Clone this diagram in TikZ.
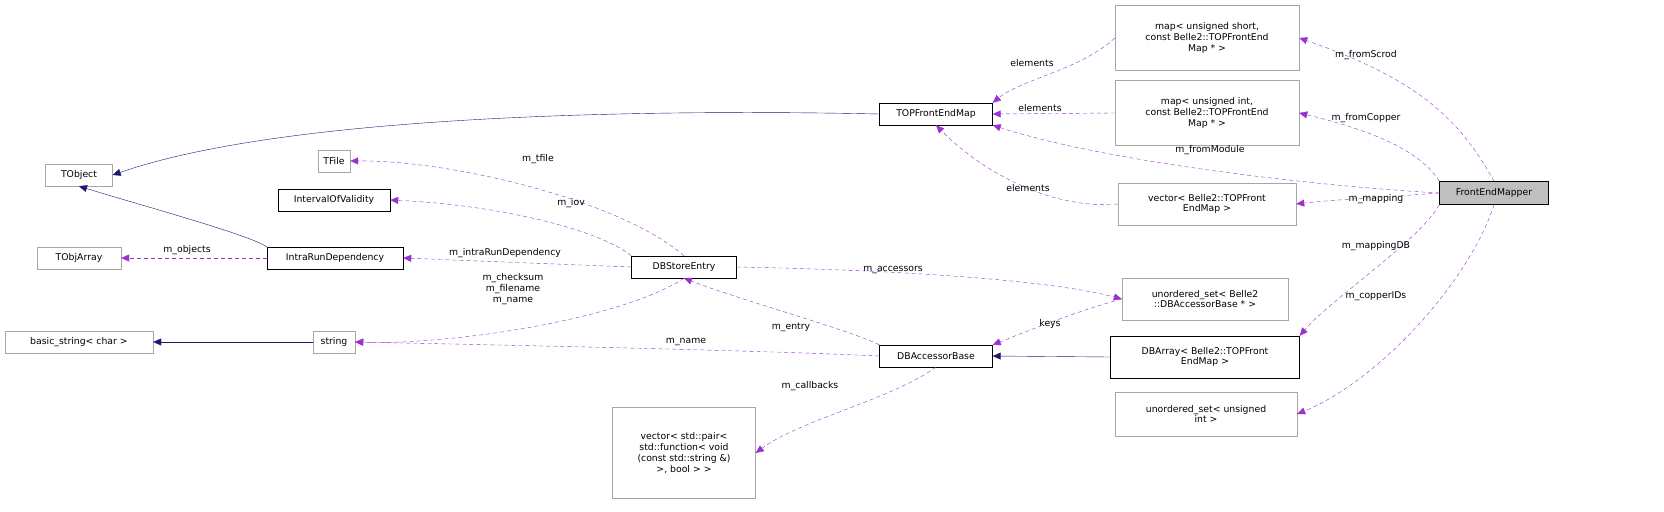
\documentclass[tikz,border=0pt]{standalone}
\usepackage{fontspec}
\setmainfont{DejaVu Sans}
\usetikzlibrary{arrows.meta}
\definecolor{purp}{HTML}{9A32CD}
\definecolor{nav}{HTML}{191970}
\begin{document}
\begin{tikzpicture}[x=1pt,y=-1pt,
  gbox/.style={draw=black!35, fill=white, align=center, inner sep=1pt, font=\fontsize{9.3}{10.8}\selectfont, minimum height=22},
  bbox/.style={gbox, draw=black},
  inh/.style={color=nav, -{Triangle[length=8pt,width=7pt]}},
  use/.style={color=purp, dash pattern=on 4pt off 3pt, -{Triangle[length=8pt,width=7pt]}},
  lab/.style={font=\fontsize{9.3}{10.8}\selectfont, align=center, inner sep=1pt, text=black}]
\useasboundingbox (0,0) rectangle (1664,511);
\node[gbox, minimum width=67] (tobj) at (79,175) {TObject};
\node[gbox, minimum width=84] (tarr) at (79,258) {TObjArray};
\node[gbox, minimum width=148] (bstr) at (79,342) {basic\_string< char >};
\node[gbox, minimum width=32] (tfile) at (334,161) {TFile};
\node[bbox, minimum width=112] (iov) at (334,200) {IntervalOfValidity};
\node[bbox, minimum width=136] (ird) at (335,258) {IntraRunDependency};
\node[gbox, minimum width=42] (str) at (334,342) {string};
\node[bbox, minimum width=105] (dbse) at (684,267) {DBStoreEntry};
\node[bbox, minimum width=113] (tfem) at (936,114) {TOPFrontEndMap};
\node[bbox, minimum width=113] (dbab) at (936,356) {DBAccessorBase};
\node[gbox, minimum width=143, minimum height=91] (vpair) at (684,453) {vector< std::pair<\\ std::function< void\\ (const std::string \&)\\ >, bool > >};
\node[gbox, minimum width=184, minimum height=65] (mshort) at (1207,38) {map< unsigned short,\\ const Belle2::TOPFrontEnd\\Map * >};
\node[gbox, minimum width=184, minimum height=65] (mint) at (1207,113) {map< unsigned int,\\ const Belle2::TOPFrontEnd\\Map * >};
\node[gbox, minimum width=178, minimum height=42] (vtop) at (1207,204) {vector< Belle2::TOPFront\\EndMap >};
\node[gbox, minimum width=166, minimum height=42] (uset) at (1205,299) {unordered\_set< Belle2\\::DBAccessorBase * >};
\node[bbox, minimum width=189, minimum height=42] (dbarr) at (1205,357) {DBArray< Belle2::TOPFront\\EndMap >};
\node[gbox, minimum width=182, minimum height=44] (useti) at (1206,414) {unordered\_set< unsigned\\ int >};
\node[bbox, fill=black!25, minimum width=109, minimum height=23] (fem) at (1494,193) {FrontEndMapper};
% inheritance
\draw[inh] (tfem.west) .. controls (700,110) and (300,110) .. (tobj.east);
\draw[inh] (ird.north west) .. controls (250,235) and (140,205) .. (tobj.south);
\draw[inh] (str.west) -- (bstr.east);
\draw[inh] (dbarr.west) -- (dbab.east);
% usage
\draw[use] (ird.west) -- (tarr.east);
\node[lab] (l1) at (187,250) {m\_objects};
\draw[use] (dbse.north) .. controls (620,200) and (450,160) .. (tfile.east);
\node[lab] (l2) at (538,159) {m\_tfile};
\draw[use] (dbse.north west) .. controls (600,230) and (500,205) .. (iov.east);
\node[lab] (l3) at (571,203) {m\_iov};
\draw[use] (dbse.west) -- (ird.east);
\node[lab] (l4) at (505,253) {m\_intraRunDependency};
\draw[use] (dbse.south) .. controls (620,320) and (450,345) .. (str.east);
\node[lab] (l5) at (513,289) {m\_checksum\\m\_filename\\m\_name};
\draw[use] (dbab.west) .. controls (750,350) and (500,345) .. (str.east);
\node[lab] (l6) at (686,342) {m\_name};
\draw[use] (dbab.north west) .. controls (850,330) and (740,300) .. (dbse.south);
\node[lab] (l7) at (791,327) {m\_entry};
\draw[use] (dbab.south) .. controls (890,400) and (800,420) .. (vpair.east);
\node[lab] (l8) at (810,386) {m\_callbacks};
\draw[use] (uset.west) .. controls (1080,310) and (1030,330) .. (dbab.north east);
\node[lab] (l9) at (1050,324) {keys};
\draw[use] (dbse.east) .. controls (900,270) and (1050,280) .. (uset.west);
\node[lab] (l10) at (893,270) {m\_accessors};
\draw[use] (mshort.west) .. controls (1080,70) and (1020,80) .. (tfem.north east);
\node[lab] (l11) at (1032,63) {elements};
\draw[use] (mint.west) -- (tfem.east);
\node[lab] (l12) at (1040,108) {elements};
\draw[use] (vtop.west) .. controls (1050,210) and (980,170) .. (tfem.south);
\node[lab] (l13) at (1028,188) {elements};
\draw[use] (fem.north) .. controls (1460,120) and (1420,80) .. (mshort.east);
\node[lab] (l14) at (1366,55) {m\_fromScrod};
\draw[use] (fem.north west) .. controls (1420,150) and (1370,130) .. (mint.east);
\node[lab] (l15) at (1366,118) {m\_fromCopper};
\draw[use] (fem.west) .. controls (1300,185) and (1100,160) .. (tfem.south east);
\node[lab] (l16) at (1210,150) {m\_fromModule};
\draw[use] (fem.west) .. controls (1400,196) and (1330,200) .. (vtop.east);
\node[lab] (l17) at (1376,199) {m\_mapping};
\draw[use] (fem.south west) .. controls (1420,240) and (1330,300) .. (dbarr.north east);
\node[lab] (l18) at (1376,246) {m\_mappingDB};
\draw[use] (fem.south) .. controls (1470,280) and (1380,380) .. (useti.east);
\node[lab] (l19) at (1376,296) {m\_copperIDs};
\end{tikzpicture}
\end{document}
